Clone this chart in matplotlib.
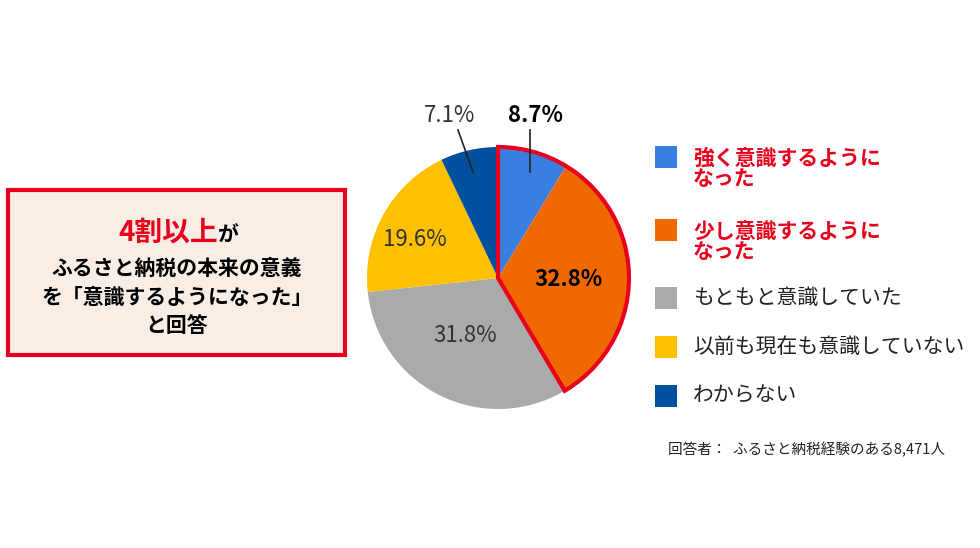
import matplotlib
matplotlib.use("Agg")
import matplotlib.pyplot as plt
from matplotlib.patches import Wedge, Rectangle

plt.rcParams['font.family'] = ['Noto Sans CJK JP', 'DejaVu Sans']

categories = ["強く意識するように\nなった", "少し意識するように\nなった", "もともと意識していた",
              "以前も現在も意識していない", "わからない"]
values = [8.7, 32.8, 31.8, 19.6, 7.1]
labels = ["8.7%", "32.8%", "31.8%", "19.6%", "7.1%"]
colors = ["#3a7ee0", "#f06800", "#aaaaaa", "#ffc000", "#0050a0"]

W, H = 980, 548
fig = plt.figure(figsize=(9.8, 5.48), dpi=100)
def fx(x): return x / W
def fy(y): return 1 - y / H

cx, cy, r = 498, 278, 131
ax = fig.add_axes([fx(cx - r), fy(cy + r), 2 * r / W, 2 * r / H])
ax.pie(values, colors=colors, startangle=90, counterclock=False,
       wedgeprops=dict(edgecolor="white", linewidth=0))
ax.set_xlim(-1, 1); ax.set_ylim(-1, 1)
ax.set_aspect('auto')
top = sum(values[:2])
w = Wedge((0, 0), 1.0, 90 - top * 3.6, 90, fill=False, edgecolor="#e8001c", linewidth=3, zorder=5)
w.set_clip_on(False)
ax.add_patch(w)
ax.axis('off')

fig.text(fx(535), fy(115), labels[0], fontsize=16, fontweight='bold', ha='center', va='center')
fig.text(fx(568), fy(280), labels[1], fontsize=16, fontweight='bold', ha='center', va='center')
fig.text(fx(465), fy(335), labels[2], fontsize=16, ha='center', va='center', color="#333333")
fig.text(fx(415), fy(240), labels[3], fontsize=16, ha='center', va='center', color="#333333")
fig.text(fx(450), fy(115), labels[4], fontsize=16, ha='center', va='center', color="#333333")
fig.add_artist(plt.Line2D([fx(530), fx(530)], [fy(130), fy(172)], color="#222222", lw=1.2))
fig.add_artist(plt.Line2D([fx(458), fx(473)], [fy(130), fy(172)], color="#222222", lw=1.2))

# left box
fig.add_artist(Rectangle((fx(8), fy(355)), 337 / W, 165 / H, facecolor="#f8eee6",
                         edgecolor="#e8001c", linewidth=3, transform=fig.transFigure))
fig.text(fx(168), fy(232), "4割以上", fontsize=20, fontweight='bold', color="#e8001c", ha='center', va='center')
fig.text(fx(228), fy(235), "が", fontsize=15, fontweight='bold', ha='center', va='center')
fig.text(fx(177), fy(268), "ふるさと納税の本来の意義", fontsize=15, fontweight='bold', ha='center', va='center')
fig.text(fx(177), fy(297), "を「意識するようになった」", fontsize=15, fontweight='bold', ha='center', va='center')
fig.text(fx(177), fy(326), "と回答", fontsize=15, fontweight='bold', ha='center', va='center')

# legend
ys = [168, 241, 298, 347, 396]
sq = [157, 230, 298, 347, 396]
for i, (c, t, y, s) in enumerate(zip(colors, categories, ys, sq)):
    fig.add_artist(Rectangle((fx(655), fy(s + 11)), 22 / W, 22 / H,
                             facecolor=c, edgecolor='none', transform=fig.transFigure))
    red = i < 2
    fig.text(fx(693), fy(y), t, fontsize=15, ha='left', va='center', linespacing=0.95,
             color="#e8001c" if red else "#222222", fontweight='bold' if red else 'normal')

fig.text(fx(668), fy(450), "回答者：  ふるさと納税経験のある8,471人", fontsize=10.5, ha='left', va='center', color="#222222")

fig.savefig("out.png", dpi=100)
